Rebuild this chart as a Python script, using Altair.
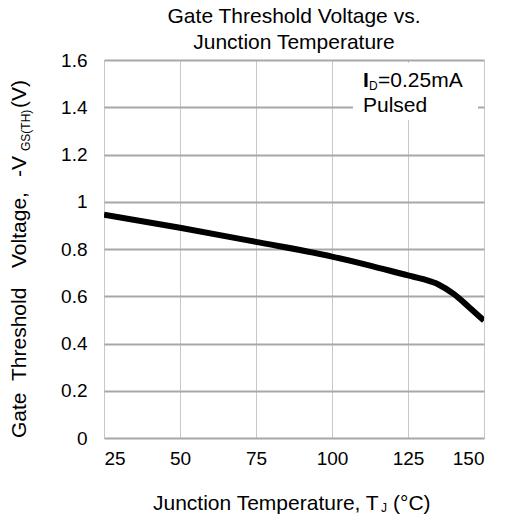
import altair as alt
import pandas as pd

# Data
temp_c = [25, 50, 75, 100, 112.5, 125, 130, 135, 140, 145, 150]
vgs_th = [0.945, 0.89, 0.83, 0.768, 0.73, 0.688, 0.672, 0.65, 0.61, 0.555, 0.497]

x_ticks = [25, 50, 75, 100, 125, 150]
y_ticks = [0, 0.2, 0.4, 0.6, 0.8, 1.0, 1.2, 1.4, 1.6]

title_lines = ["Gate Threshold  Voltage vs.", "Junction Temperature"]

FONT = "Liberation Sans"

df = pd.DataFrame({"T": temp_c, "V": vgs_th})

W, H = 380, 378

xs = alt.Scale(domain=[25, 150], nice=False)
ys = alt.Scale(domain=[0, 1.6], nice=False)

line = alt.Chart(df).mark_line(color="black", strokeWidth=6, interpolate="monotone", clip=True).encode(
    x=alt.X("T:Q", scale=xs,
            axis=alt.Axis(values=x_ticks, title=None, grid=True, gridColor="#c8c8c8", gridWidth=1,
                          ticks=False, tickSize=0, domain=False, labelPadding=11,
                          labelFontSize=19, labelFont=FONT, labelColor="black")),
    y=alt.Y("V:Q", scale=ys,
            axis=alt.Axis(values=y_ticks, title=None, grid=True, gridColor="#a8a8a8", gridWidth=2,
                          ticks=False, tickSize=0, domain=False, labelPadding=17,
                          labelFontSize=19, labelFont=FONT, labelColor="black",
                          labelExpr="datum.value == 1 ? '1' : format(datum.value, '.1f') == '0.0' ? '0' : datum.label")),
)

one = pd.DataFrame({"k": [0]})

legend_box = alt.Chart(one).mark_rect(color="white").encode(
    x=alt.value(249), x2=alt.value(374), y=alt.value(3), y2=alt.value(60)
)

def txt(label, x, y, size=21, angle=0, weight="normal", align="left"):
    d = pd.DataFrame({"label": [label]})
    return alt.Chart(d).mark_text(font=FONT, fontSize=size, angle=angle, fontWeight=weight,
                                  align=align, baseline="alphabetic", color="black").encode(
        x=alt.value(x), y=alt.value(y), text="label:N")

labels = [
    # legend note
    txt("I", 259, 27, weight="bold"),
    txt("D", 265, 30, size=12),
    txt("=0.25mA", 274, 27),
    txt("Pulsed", 259, 52),
    # x-axis title
    txt("Junction Temperature, T", 49, 450),
    txt("J", 277, 452, size=12),
    txt("(°C)", 289, 450),
    # y-axis title (rotated)
    txt("Gate", -78, 378, angle=270),
    txt("Threshold", -78, 321, angle=270),
    txt("Voltage,", -78, 208, angle=270),
    txt("-V", -78, 117, angle=270),
    txt("GS(TH)", -74, 91, size=12, angle=270),
    txt("(V)", -78, 48, angle=270),
]

chart = alt.layer(line, legend_box, *labels).properties(
    width=W, height=H,
    title=alt.Title(title_lines, fontSize=21, font=FONT, fontWeight="normal", lineHeight=26,
                    anchor="middle", color="black", offset=-2),
    autosize=alt.AutoSizeParams(type="none"),
    padding={"left": 96, "top": 52, "right": 14, "bottom": 77},
).configure_view(stroke="black", strokeWidth=2).configure(background="white")

chart.save("out.html", embed_options={"renderer": "svg", "actions": False})
